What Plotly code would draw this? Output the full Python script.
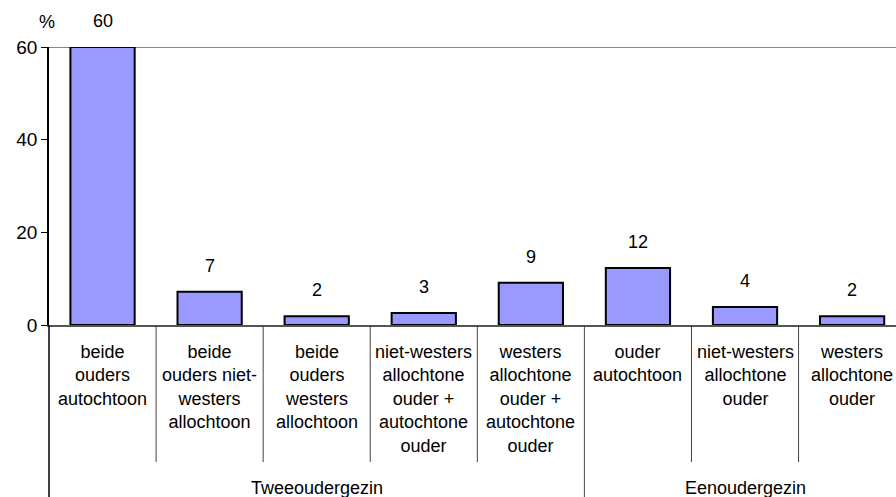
import plotly.graph_objects as go

categories = ["beide ouders autochtoon", "beide ouders niet-westers allochtoon",
              "beide ouders westers allochtoon",
              "niet-westers allochtone ouder + autochtone ouder",
              "westers allochtone ouder + autochtone ouder",
              "ouder autochtoon", "niet-westers allochtone ouder",
              "westers allochtone ouder"]
tick_labels = ["beide<br>ouders<br>autochtoon", "beide<br>ouders niet-<br>westers<br>allochtoon",
               "beide<br>ouders<br>westers<br>allochtoon",
               "niet-westers<br>allochtone<br>ouder +<br>autochtone<br>ouder",
               "westers<br>allochtone<br>ouder +<br>autochtone<br>ouder",
               "ouder<br>autochtoon", "niet-westers<br>allochtone<br>ouder",
               "westers<br>allochtone<br>ouder"]
values = [60, 7.2, 1.9, 2.6, 9.1, 12.3, 3.9, 1.9]
value_labels = ["60", "7", "2", "3", "9", "12", "4", "2"]
groups = ["Tweeoudergezin", "Eenoudergezin"]
group_sizes = [5, 3]
y_ticks = [0, 20, 40, 60]

FONT = "Liberation Sans, Arial, sans-serif"
H_PLOT = 497 - 47 - 172

fig = go.Figure(go.Bar(
    x=categories, y=values, width=0.6,
    marker=dict(color="#9999FF", line=dict(color="black", width=2)),
    hoverinfo="skip",
))

ann = []
for c, v, t in zip(categories, values, value_labels):
    ann.append(dict(x=c, y=v, text=t, showarrow=False, yanchor="bottom",
                    yshift=14, font=dict(size=18)))
for c, t in zip(categories, tick_labels):
    ann.append(dict(x=c, y=-(340 - 325) / H_PLOT, yref="paper", text=t,
                    showarrow=False, yanchor="top", font=dict(size=18)))

shapes = []
start = 0
for gi, (g, n) in enumerate(zip(groups, group_sizes)):
    center = start + (n - 1) / 2
    if gi == len(groups) - 1:
        center = start + n / 2 - 0.5
    ann.append(dict(x=center, y=-(488 - 325) / H_PLOT, yref="paper", text=g,
                    showarrow=False, yanchor="middle", font=dict(size=18)))
    for k in range(1, n):
        shapes.append(dict(type="line", xref="x", yref="paper",
                           x0=start + k - 0.5, x1=start + k - 0.5,
                           y0=0, y1=-(462 - 325) / H_PLOT,
                           line=dict(color="#444", width=1)))
    if gi > 0:
        shapes.append(dict(type="line", xref="x", yref="paper",
                           x0=start - 0.5, x1=start - 0.5,
                           y0=0, y1=-(500 - 325) / H_PLOT,
                           line=dict(color="#444", width=1)))
    start += n

# left axis extension to bottom
shapes.append(dict(type="line", xref="paper", yref="paper", x0=0, x1=0,
                   y0=0, y1=-(500 - 325) / H_PLOT, line=dict(color="black", width=1.5)))
# top line at 60
shapes.append(dict(type="line", xref="paper", yref="y", x0=0, x1=1,
                   y0=60, y1=60, line=dict(color="#888", width=2), layer="below"))

ann.append(dict(x=-2 / 847, y=1 + (47 - 22) / H_PLOT, xref="paper", yref="paper",
                xanchor="center", yanchor="middle",
                text="%", showarrow=False, font=dict(size=18)))

fig.update_layout(
    width=896, height=497,
    margin=dict(l=49, r=0, t=47, b=172),
    plot_bgcolor="white", paper_bgcolor="white",
    font=dict(family=FONT, size=18, color="black"),
    showlegend=False,
    bargap=0.4,
    xaxis=dict(range=[-0.5, 7.41], showticklabels=False, showgrid=False,
               showline=True, linecolor="#555", linewidth=2, zeroline=False,
               ticks=""),
    yaxis=dict(range=[0, 60], tickvals=y_ticks, showgrid=False, zeroline=False,
               showline=True, linecolor="black", linewidth=1.5,
               ticks="outside", ticklen=6, tickcolor="black",
               tickfont=dict(size=19)),
    annotations=ann, shapes=shapes,
)

fig.write_html("out.html", config={"displayModeBar": False},
               post_script="document.body.style.margin='0';document.body.style.overflow='hidden';")
